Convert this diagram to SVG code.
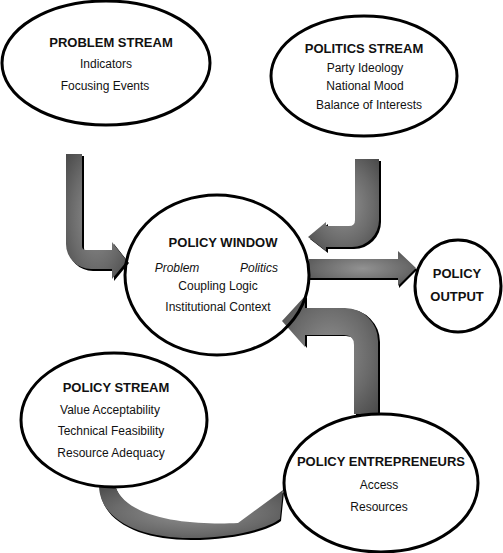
<svg xmlns="http://www.w3.org/2000/svg" width="503" height="553" viewBox="0 0 503 553">
<style>
.node{fill:none;stroke:#000;stroke-width:3}
text{font-family:"Liberation Sans",Arial,sans-serif;fill:#111;text-anchor:middle}
.t{font-size:13px;font-weight:bold}
.s{font-size:12px}
.i{font-size:12px;font-style:italic}
.sh{fill:#000}
.ar{fill:url(#ag)}
</style>
<defs>
<radialGradient id="ag" cx="0.5" cy="0.5" r="0.7">
<stop offset="0" stop-color="#929292"/>
<stop offset="0.6" stop-color="#6a6a6a"/>
<stop offset="1" stop-color="#4a4a4a"/>
</radialGradient>
<path id="p1" d="M66,154 L82,154 L82,246 Q82,250 86,250 L112,250 L112,242 L127,261 L112,279 L112,269 L91,269 A25,25 0 0 1 66,244 Z"/>
<path id="p2" d="M355,159 L379,159 L379,220 A27,27 0 0 1 352,247 L326,247 L326,251 L308,237 L326,222 L326,226 L349,226 Q355,226 355,220 Z"/>
<path id="p3" d="M309,259 L398,259 L398,251 L416,268 L398,286 L398,278 L309,278 Z"/>
<path id="p4" d="M354,414 L354,345 Q354,335 344,335 L305,335 L305,347 L282,321 L305,296 L305,308 L345,308 A33,33 0 0 1 378,341 L378,414 Z"/>
<path id="p5" d="M99,486 C100,520 140,538 190,538 C230,538 265,530 280,519 L283,490 L238,523 C200,525 128,522 115,486 Z"/>
</defs>
<g id="connectors">
<use href="#p1" class="sh" transform="translate(2,2)"/>
<use href="#p1" class="ar"/>
<use href="#p2" class="sh" transform="translate(2,2)"/>
<use href="#p2" class="ar"/>
<use href="#p3" class="sh" transform="translate(1,2)"/>
<use href="#p3" class="ar"/>
<use href="#p4" class="sh" transform="translate(2,1)"/>
<use href="#p4" class="ar"/>
<use href="#p5" class="sh" transform="translate(1,2)"/>
<use href="#p5" class="ar"/>
</g>
<g id="problem-stream">
<ellipse class="node" cx="106" cy="63" rx="104" ry="62"/>
<text class="t" x="111" y="47">PROBLEM STREAM</text>
<text class="s" x="106" y="68">Indicators</text>
<text class="s" x="105" y="90">Focusing Events</text>
</g>
<g id="politics-stream">
<ellipse class="node" cx="364" cy="76" rx="93" ry="60"/>
<text class="t" x="364" y="53">POLITICS STREAM</text>
<text class="s" x="365" y="72">Party Ideology</text>
<text class="s" x="365" y="90">National Mood</text>
<text class="s" x="369" y="109">Balance of Interests</text>
</g>
<g id="policy-window">
<ellipse class="node" cx="217" cy="275" rx="92" ry="80"/>
<text class="t" x="223" y="247">POLICY WINDOW</text>
<text class="i" x="177" y="272">Problem</text>
<text class="i" x="259" y="272">Politics</text>
<text class="s" x="218" y="290">Coupling Logic</text>
<text class="s" x="218" y="311">Institutional Context</text>
</g>
<g id="policy-output">
<ellipse class="node" cx="458" cy="286" rx="43" ry="46"/>
<text class="t" x="457" y="278">POLICY</text>
<text class="t" x="457" y="301">OUTPUT</text>
</g>
<g id="policy-stream">
<ellipse class="node" cx="114" cy="420" rx="93" ry="67"/>
<text class="t" x="116" y="392">POLICY STREAM</text>
<text class="s" x="110" y="414">Value Acceptability</text>
<text class="s" x="111" y="435">Technical Feasibility</text>
<text class="s" x="111" y="457">Resource Adequacy</text>
</g>
<g id="policy-entrepreneurs">
<ellipse class="node" cx="381" cy="483" rx="97" ry="69"/>
<text class="t" x="381" y="466">POLICY ENTREPRENEURS</text>
<text class="s" x="379" y="489">Access</text>
<text class="s" x="379" y="511">Resources</text>
</g>
</svg>
